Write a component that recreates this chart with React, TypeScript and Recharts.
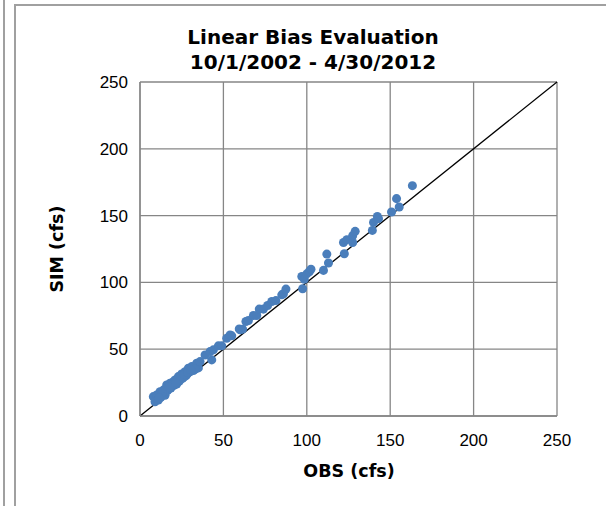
import { ScatterChart, Scatter, XAxis, YAxis, ZAxis, CartesianGrid, ReferenceLine } from 'recharts';

const obsValues = [
  8, 9, 10, 11, 12, 12.5, 13, 14, 14.5, 15, 16, 16.5, 17, 18, 18.5, 19, 20, 20.5, 21, 22,
  23, 23.5, 24, 25, 25.5, 26, 27, 27.5, 28, 29, 30, 31, 32, 34, 35, 36, 39, 42, 43, 44,
  47, 49, 52, 54, 55, 60, 59.5, 61.5, 63.5, 65, 68, 70, 71.5, 74, 76.5, 79, 81.5, 85, 86, 87.5,
  97, 98.5, 97.5, 100, 101.5, 102.5, 110, 113, 112, 122.5, 122, 124, 127.5, 127.5, 129, 139.3, 140, 142.3, 143, 150.8,
  155.4, 153.8, 163.3, 13.5, 15.5, 19.5, 22.5, 24.5, 26.5, 33, 11.5, 17.5, 21.5, 28.5, 30.5
];
const simValues = [
  14.5, 10.7, 15.7, 12, 18.2, 14, 16, 19.4, 17, 15.5, 23.2, 19, 20, 24.5, 21, 22, 25.7, 23, 27, 24,
  29.5, 26, 27, 31.5, 28.2, 29, 33.2, 30, 31, 35.7, 33, 37, 34, 39.5, 36, 40.7, 45.7, 48.2, 42, 49.5,
  52.5, 52.5, 58.2, 60.7, 60, 64.5, 65.2, 65, 70.7, 71.5, 75.2, 75.2, 80, 80, 82.7, 85.7, 86.4, 90.7, 91.5, 95,
  104.4, 102.4, 95.2, 106.4, 108, 109.8, 109, 114.5, 121.2, 121.4, 129.9, 132, 129.9, 134.9, 138.2, 138.9, 144.9, 149.4, 147.7, 152.7,
  156.4, 162.7, 172.4, 17.5, 20.5, 23.5, 27.5, 29.5, 31, 35, 13.5, 21.5, 25, 32.5, 34.5
];
const axisTicks = [0, 50, 100, 150, 200, 250];
const titleLines = ['Linear Bias Evaluation', '10/1/2002 - 4/30/2012'];

const points = obsValues.map((obs, i) => ({ obs, sim: simValues[i] }));

const gridColor = '#868686';
const frameColor = '#a0a0a0';
const dotColor = '#4a7ebb';

const tickStyle = { fontFamily: '"Liberation Sans", Arial, sans-serif', fontSize: 17, fill: '#000' };
const boldFont = '"DejaVu Sans", Verdana, sans-serif';

export default function App() {
  return (
    <div style={{ position: 'absolute', left: 0, top: 0, width: 606, height: 506, background: '#fff', overflow: 'hidden' }}>
      {/* frame edges */}
      <div style={{ position: 'absolute', left: 3, top: 0, width: 2, height: 506, background: frameColor }} />
      <div style={{ position: 'absolute', left: 14, top: 4, width: 2, height: 502, background: frameColor }} />
      <div style={{ position: 'absolute', left: 14, top: 4, width: 592, height: 2, background: frameColor }} />

      <ScatterChart width={606} height={506} margin={{ top: 82, right: 49, bottom: 30, left: 80 }}>
        <CartesianGrid stroke={gridColor} strokeWidth={1.3} />
        <XAxis
          type="number"
          dataKey="obs"
          domain={[0, 250]}
          ticks={axisTicks}
          height={60}
          tickLine={false}
          tickSize={0}
          tickMargin={18}
          axisLine={{ stroke: gridColor, strokeWidth: 1.3 }}
          tick={tickStyle}
        />
        <YAxis
          type="number"
          dataKey="sim"
          domain={[0, 250]}
          ticks={axisTicks}
          width={60}
          tickLine={false}
          tickSize={0}
          tickMargin={12}
          axisLine={{ stroke: gridColor, strokeWidth: 1.3 }}
          tick={tickStyle}
        />
        <ZAxis range={[20, 20]} />
        <Scatter data={points} fill={dotColor} isAnimationActive={false} />
        <ReferenceLine
          segment={[{ x: 0, y: 0 }, { x: 250, y: 250 }]}
          stroke="#000"
          strokeWidth={1.3}
        />
      </ScatterChart>

      <div
        style={{
          position: 'absolute', left: 15, top: 25, width: 596, textAlign: 'center',
          fontFamily: boldFont, fontWeight: 'bold', fontSize: 20, lineHeight: '25px', color: '#000',
        }}
      >
        {titleLines.map((t) => (
          <div key={t}>{t}</div>
        ))}
      </div>

      <div
        style={{
          position: 'absolute', left: 249, top: 460, width: 200, textAlign: 'center',
          fontFamily: boldFont, fontWeight: 'bold', fontSize: 17.5, lineHeight: '22px', color: '#000',
        }}
      >
        OBS (cfs)
      </div>

      <div
        style={{
          position: 'absolute', left: -43, top: 238, width: 200, textAlign: 'center',
          fontFamily: boldFont, fontWeight: 'bold', fontSize: 17.5, lineHeight: '22px', color: '#000',
          transform: 'rotate(-90deg)', transformOrigin: '100px 11px',
        }}
      >
        SIM (cfs)
      </div>
    </div>
  );
}
